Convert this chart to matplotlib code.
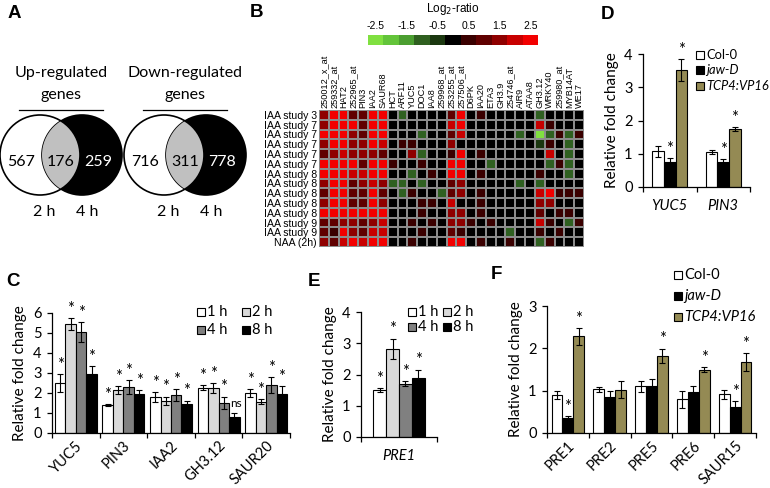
import numpy as np
import matplotlib.pyplot as plt
from matplotlib.patches import Circle, Rectangle
from matplotlib.colors import ListedColormap, BoundaryNorm

W, H = 770, 488
fig = plt.figure(figsize=(W / 100, H / 100), dpi=100)
plt.rcParams['font.family'] = ['Lato', 'DejaVu Sans']

# ---------------------------------------------------------------- data
venn_up = [567, 176, 259]
venn_down = [716, 311, 778]

hm_rows = ['IAA study 3'] + ['IAA study 7'] * 5 + ['IAA study 8'] * 5 + \
          ['IAA study 9'] * 2 + ['NAA (2h)']
hm_cols = ['250012_x_at', '259332_at', 'HAT2', '252965_at', 'PIN3', 'IAA2',
           'SAUR68', 'HCT', 'ARF11', 'YUC5', 'DOC1', 'IAA8', '259968_at',
           '253255_at', '257506_at', 'D6PK', 'IAA20', 'ETA3', 'GH3.9',
           '254746_at', 'AIR9', 'ATAA8', 'GH3.12', 'WRKY40', '259980_at',
           'MYB14AT', 'WE17']
hm_vals = np.array([
    [1.5, 2.5, 2.5, 1.0, 1.0, 2.5, 2.5, 0, -1, 0, 0, 0, 0, 1.0, 2.5, 0, 0.5, 0, 0, 0, 0, 0, -1, 0, 0, 0, 0],
    [1.5, 2.5, 2.5, 2.5, 1.0, 2.5, 2.5, 0, 0, 0, 0, 0, 0, 2.0, 2.5, 0, 0, 0, 0, 0, 0, 0, 2.0, 0.5, 0, 0, 0],
    [2.5, 2.5, 2.5, 1.5, 1.0, 2.5, 2.5, 0, 0, 0, -1, 0, 0, 1.0, 2.0, 0, 0, 0, 0, 0, -1, 0, -2.5, -1, 0.5, -1, 0.5],
    [1.5, 2.5, 2.5, 1.5, 1.5, 2.5, 2.0, 0, 0.5, 0.5, 0, 0, 0, 1.5, 0, 0, 0, 0, 0, 0, 0, 0, -0.5, 0.5, 0, -1, 0],
    [1.0, 1.5, 2.0, 1.5, 1.5, 1.5, 1.0, 0, 0, 1.5, -1, 0, 0, 0.5, 2.5, 0, 0.5, 0, 0, 0, 0, 0, 0, 2.0, 0, -1, 0],
    [2.5, 2.5, 2.5, 2.5, 1.0, 2.5, 2.5, 0.5, 0, 0, 0.5, 0, 0, 2.5, 2.5, 0, 0, -1, 0, 0, 0, 0, 0, -1, 0.5, -1, 0],
    [2.5, 2.5, 2.5, 2.0, 2.0, 2.5, 2.5, 0, 0, -1, 0, 0.5, 0, 2.5, 2.5, 0, 0.5, 0, 0, 0, 0, 0, 0.5, 0, 0, -1, 0],
    [1.5, 2.5, 2.5, 1.0, 1.5, 2.0, 1.5, -1, -1, 0, -1, 0, 0, 1.0, 1.5, 0, 0, 0, 0, 0, -1, 0, -1, 0, 0, 0, 0],
    [1.0, 2.5, 2.5, 1.0, 1.0, 2.5, 1.0, 0, -1, 0.5, 0, 0, -1, 1.0, 1.5, 0, 0.5, 0, 0, 0, 0, 0, 2.0, 2.5, 0.5, 0.5, 0.5],
    [1.5, 2.5, 2.5, 1.0, 1.0, 2.5, 1.5, 0, 0, 0, 0.5, 0.5, 0, 2.0, 0, 0, 0.5, 0, 0, 0, 0, 0, 1.5, 1.5, 0, 0, 0],
    [2.5, 2.5, 2.5, 2.5, 2.5, 2.5, 2.5, 0, 0, 0, 0.5, 0, 0, 1.5, 1.5, 0, 0.5, 0, 0, 0, 0, 0, 1.0, 0, 0.5, 0.5, 0],
    [1.0, 1.0, 1.5, 1.5, 1.0, 1.5, 2.0, 0, 0, 0.5, 0, 0.5, 0, 1.5, 1.5, 0.5, 0, 0.5, 0, 0, 0, 0, 2.0, 0.5, 0, -1, 0.5],
    [1.0, 0.5, 2.5, 1.5, 1.0, 2.0, 2.0, 0, 0, 0, 0.5, 0, 0, 1.0, 0.5, 0, 0, 0, 0, -1, 0, 0, 0.5, 0, 0.5, 0, 0],
    [1.5, 1.0, 2.0, 2.5, 2.0, 2.5, 2.5, 0, 0, 0.5, 0, 0, 0, 2.5, 2.5, 0, 0.5, 0, 0, 0.5, 0, 0, -1, 0.5, 0, 0, 0],
])
cbar_ticks = [-2.5, -1.5, -0.5, 0.5, 1.5, 2.5]

c_genes = ['YUC5', 'PIN3', 'IAA2', 'GH3.12', 'SAUR20']
c_times = ['1 h', '2 h', '4 h', '8 h']
c_vals = [[2.5, 1.4, 1.78, 2.26, 1.98],
          [5.45, 2.15, 1.62, 2.25, 1.56],
          [5.05, 2.28, 1.9, 1.52, 2.38],
          [2.95, 1.95, 1.47, 0.8, 1.94]]
c_err = [[0.45, 0.03, 0.25, 0.12, 0.2],
         [0.3, 0.2, 0.2, 0.25, 0.12],
         [0.5, 0.35, 0.3, 0.3, 0.4],
         [0.4, 0.2, 0.15, 0.2, 0.4]]
c_mark = [['*'] * 5, ['*'] * 5, ['*'] * 5, ['*', '*', '*', 'ns', '*']]

d_genes = ['YUC5', 'PIN3']
d_lines = ['Col-0', 'jaw-D', 'TCP4:VP16']
d_vals = [[1.07, 1.05], [0.74, 0.74], [3.52, 1.73]]
d_err = [[0.17, 0.05], [0.12, 0.1], [0.32, 0.06]]
d_mark = [['', ''], ['*', '*'], ['*', '*']]

e_vals = [1.5, 2.83, 1.71, 1.88]
e_err = [0.07, 0.32, 0.08, 0.27]

f_genes = ['PRE1', 'PRE2', 'PRE5', 'PRE6', 'SAUR15']
f_vals = [[0.9, 1.03, 1.1, 0.8, 0.91],
          [0.36, 0.86, 1.1, 0.96, 0.62],
          [2.28, 1.02, 1.82, 1.5, 1.67]]
f_err = [[0.09, 0.05, 0.13, 0.2, 0.1],
         [0.03, 0.14, 0.18, 0.15, 0.13],
         [0.19, 0.2, 0.17, 0.05, 0.21]]
f_mark = [['', '', '', '', ''],
          ['*', '', '', '', '*'],
          ['*', '', '*', '*', '*']]

time_colors = ['white', '#d9d9d9', '#808080', 'black']
line_colors = ['white', 'black', '#948a54']


def pax(x0, y0, x1, y1):
    return fig.add_axes([x0 / W, 1 - y1 / H, (x1 - x0) / W, (y1 - y0) / H])


ov = pax(0, 0, W, H)
ov.set_xlim(0, W)
ov.set_ylim(H, 0)
ov.axis('off')
ov.set_zorder(10)

# ---------------------------------------------------------------- panel letters
for lt, x, y in [('A', 8, 18), ('B', 250, 17), ('C', 6, 286), ('D', 601, 19),
                 ('E', 308, 286), ('F', 491, 279)]:
    ov.text(x, y, lt, fontsize=13.5, fontweight='bold', family='Liberation Sans',
            ha='left', va='baseline')

# ---------------------------------------------------------------- A: venn
def venn(cx, title, nums):
    r = 40
    c1 = (cx - 21, 155)
    c2 = (cx + 21, 155)
    ov.add_patch(Circle(c1, r, fc='white', ec='none', zorder=2))
    ov.add_patch(Circle(c2, r, fc='black', ec='black', lw=1.2, zorder=3))
    lens = Circle(c1, r, fc='#c0c0c0', ec='none', zorder=4)
    ov.add_patch(lens)
    lens.set_clip_path(Circle(c2, r, transform=ov.transData))
    ov.add_patch(Circle(c1, r, fc='none', ec='black', lw=1.2, zorder=5))
    ov.text(cx, 73, title[0], fontsize=11.5, ha='center', va='center')
    ov.text(cx, 95, title[1], fontsize=11.5, ha='center', va='center')
    ov.plot([cx - 42, cx + 42], [110, 110], color='black', lw=0.9)
    ov.text(cx - 40, 162, str(nums[0]), fontsize=11.5, ha='center', va='center', zorder=6)
    ov.text(cx, 162, str(nums[1]), fontsize=11.5, ha='center', va='center', zorder=6)
    ov.text(cx + 37, 162, str(nums[2]), fontsize=11.5, ha='center', va='center',
            color='white', zorder=6)
    ov.text(cx - 17, 212, '2 h', fontsize=11.5, ha='center', va='center')
    ov.text(cx + 26, 212, '4 h', fontsize=11.5, ha='center', va='center')


venn(61, ['Up-regulated', 'genes'], venn_up)
venn(185, ['Down-regulated', 'genes'], venn_down)

# ---------------------------------------------------------------- B: heatmap
hm_colors = ['#80e040', '#63c43a', '#4b9e30', '#2f6020', '#1b3810', '#000000',
             '#3a0000', '#600000', '#8f0000', '#c80000', '#f20000']
cmap = ListedColormap(hm_colors)
bounds = np.arange(-2.75, 2.76, 0.5)
norm = BoundaryNorm(bounds, cmap.N)

axh = pax(319, 110, 584, 247)
axh.pcolormesh(hm_vals, cmap=cmap, norm=norm, edgecolors='#8c8c8c', linewidth=0.35)
axh.set_xlim(0, len(hm_cols))
axh.set_ylim(len(hm_rows), 0)
axh.set_yticks(np.arange(len(hm_rows)) + 0.5)
axh.set_yticklabels(hm_rows, family='Liberation Sans', fontsize=7.6)
axh.set_xticks(np.arange(len(hm_cols)) + 0.5)
axh.set_xticklabels(hm_cols, family='Liberation Sans', fontsize=6.6, rotation=90)
axh.xaxis.tick_top()
axh.tick_params(length=0, pad=1.5)
for s in axh.spines.values():
    s.set_visible(False)

axc = pax(368, 35, 538, 45)
axc.pcolormesh(bounds, [0, 1], ((bounds[:-1] + bounds[1:]) / 2)[None, :],
               cmap=cmap, norm=norm)
axc.set_xlim(bounds[0], bounds[-1])
axc.set_yticks([])
axc.set_xticks(cbar_ticks)
axc.set_xticklabels([str(t) for t in cbar_ticks], family='Liberation Sans', fontsize=7.5)
axc.xaxis.tick_top()
axc.tick_params(length=0, pad=3)
for s in axc.spines.values():
    s.set_visible(False)
ov.text(453, 9, 'Log$_2$-ratio', family='Liberation Sans', fontsize=8.5,
        ha='center', va='center')


# ---------------------------------------------------------------- bar helpers
def style_bars(ax, n, ymax, ystep):
    ax.set_xlim(-0.5, n - 0.5)
    ax.set_ylim(0, ymax)
    ax.set_yticks(np.arange(0, ymax + 0.01, ystep))
    ax.patch.set_alpha(0)
    for s in ['top', 'right']:
        ax.spines[s].set_visible(False)
    for s in ['left', 'bottom']:
        ax.spines[s].set_linewidth(0.9)
    ax.set_xticks(np.arange(n + 1) - 0.5, minor=True)
    ax.tick_params(axis='x', which='minor', length=3.5, width=0.9, direction='out')
    ax.tick_params(axis='y', length=3.5, width=0.9, labelsize=10.5, pad=4)
    ax.set_ylabel('Relative fold change', fontsize=11, labelpad=4)


def grouped(ax, vals, errs, marks, colors, width, star_fs=12):
    k = len(vals)
    x = np.arange(len(vals[0]))
    for i in range(k):
        xi = x + (i - (k - 1) / 2) * width
        ax.bar(xi, vals[i], width, color=colors[i], edgecolor='black', lw=0.8, zorder=2)
        ax.errorbar(xi, vals[i], yerr=errs[i], fmt='none', ecolor='black',
                    elinewidth=0.8, capsize=2.2, capthick=0.8, zorder=3)
        for xx, v, e, m in zip(xi, vals[i], errs[i], marks[i]):
            if m == '*':
                ax.annotate('*', (xx, v + e), xytext=(0, 1), textcoords='offset points',
                            fontsize=star_fs, ha='center', va='bottom')
            elif m:
                ax.annotate(m, (xx, v + e), xytext=(1, 3), textcoords='offset points',
                            fontsize=8.5, ha='center', va='bottom')


def legend_sq(x, y, label, color, italic=False, fs=10.5):
    ov.add_patch(Rectangle((x, y - 4), 8, 8, fc=color, ec='black', lw=0.8))
    ov.text(x + 10, y, label, fontsize=fs, ha='left', va='center',
            style='italic' if italic else 'normal')


# ---------------------------------------------------------------- C
axC = pax(52, 313, 290, 433)
grouped(axC, c_vals, c_err, c_mark, time_colors, 0.22)
style_bars(axC, len(c_genes), 6, 1)
axC.set_xticks(np.arange(len(c_genes)))
axC.set_xticklabels(c_genes, rotation=45, ha='right', rotation_mode='anchor', fontsize=10.5)
axC.tick_params(axis='x', which='major', length=0, pad=4)
for i, (xx, yy) in enumerate([(197, 312), (242, 312), (197, 330), (242, 330)]):
    legend_sq(xx, yy, c_times[i], time_colors[i])

# ---------------------------------------------------------------- D
axD = pax(643, 54, 750, 187)
grouped(axD, d_vals, d_err, d_mark, line_colors, 0.215)
style_bars(axD, len(d_genes), 4, 1)
axD.set_xticks(np.arange(len(d_genes)))
axD.set_xticklabels(d_genes, fontsize=10.5, style='italic')
axD.tick_params(axis='x', which='major', length=0, pad=9)
for i, yy in enumerate([55, 70, 86]):
    legend_sq(696, yy, d_lines[i], line_colors[i], italic=i > 0, fs=9.3)

# ---------------------------------------------------------------- E
axE = pax(361, 312, 437, 437)
grouped(axE, [[v] for v in e_vals], [[e] for e in e_err], [['*']] * 4, time_colors, 0.17)
style_bars(axE, 1, 4, 1)
axE.set_xticks([0])
axE.set_xticklabels(['PRE1'], fontsize=10.5, style='italic')
axE.tick_params(axis='x', which='major', length=0, pad=9)
for i, (xx, yy) in enumerate([(408, 312), (443, 312), (408, 327), (443, 327)]):
    legend_sq(xx, yy, c_times[i], time_colors[i])

# ---------------------------------------------------------------- F
axF = pax(547, 306, 756, 433)
grouped(axF, f_vals, f_err, f_mark, line_colors, 0.26)
style_bars(axF, len(f_genes), 3, 1)
axF.set_xticks(np.arange(len(f_genes)))
axF.set_xticklabels(f_genes, rotation=45, ha='right', rotation_mode='anchor', fontsize=10.5)
axF.tick_params(axis='x', which='major', length=0, pad=4)
for i, yy in enumerate([275, 296, 317]):
    legend_sq(674, yy, d_lines[i], line_colors[i], italic=i > 0)

fig.savefig('out.png', dpi=100)
